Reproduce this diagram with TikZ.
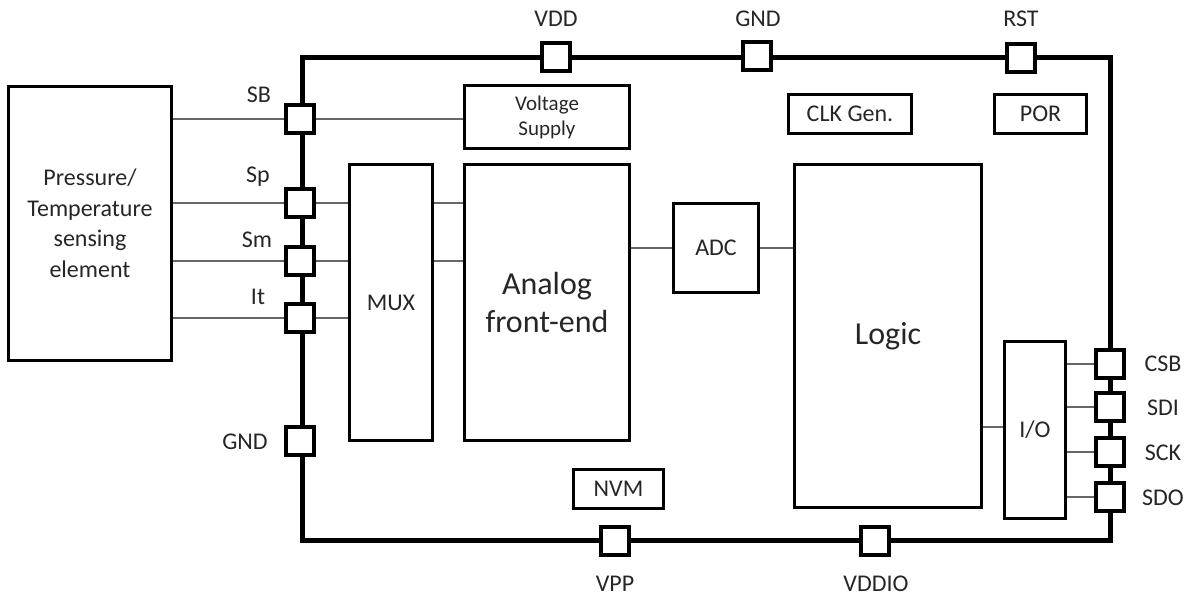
\documentclass[tikz,border=0pt]{standalone}
\usepackage{fontspec}
\setmainfont{Carlito}
\begin{document}
\begin{tikzpicture}[x=1pt,y=-1pt,
  box/.style={draw=black, line width=3pt, inner sep=0pt, text=black!85, font=\fontsize{24}{30.5}\selectfont, align=center},
  pad/.style={draw=black, fill=white, line width=4pt, minimum size=28pt, inner sep=0pt},
  pin/.style={text=black!85, font=\fontsize{24}{29}\selectfont, inner sep=0pt},
  wire/.style={draw=black!60, line width=1.8pt},
  bus/.style={draw=black, line width=5pt, line join=miter}]
\useasboundingbox (0,0) rectangle (1192,601);
% chip bus outline
\draw[bus] (302,58) rectangle (1110,540);
% boxes
\node[box, minimum width=163pt, minimum height=274pt] (sens) at (90,223.5) {Pressure/\\Temperature\\sensing\\element};
\node[box, minimum width=165pt, minimum height=63pt, font=\fontsize{21}{25}\selectfont] (vs) at (547,117) {Voltage\\Supply};
\node[box, minimum width=123pt, minimum height=39pt] (clk) at (850,114) {CLK Gen.};
\node[box, minimum width=92pt, minimum height=39pt] (por) at (1040.5,114) {POR};
\node[box, minimum width=83pt, minimum height=276pt] (mux) at (391,302.5) {MUX};
\node[box, minimum width=165pt, minimum height=276pt, font=\fontsize{32}{38}\selectfont] (afe) at (547,302.5) {Analog\\front-end};
\node[box, minimum width=85pt, minimum height=89pt] (adc) at (716,248) {ADC};
\node[box, minimum width=187pt, minimum height=343pt, font=\fontsize{32}{38}\selectfont] (logic) at (888,336) {Logic};
\node[box, minimum width=61pt, minimum height=177pt] (io) at (1035,430) {I/O};
\node[box, minimum width=90pt, minimum height=39pt] (nvm) at (618.5,489) {NVM};
% pads
\node[pad] (sb) at (300,119) {};
\node[pad] (sp) at (300,203) {};
\node[pad] (sm) at (300,261) {};
\node[pad] (it) at (300,318) {};
\node[pad] (gndl) at (300,441) {};
\node[pad] (vdd) at (556,57) {};
\node[pad] (gndt) at (757,56) {};
\node[pad] (rst) at (1021,58) {};
\node[pad] (csb) at (1110,364) {};
\node[pad] (sdi) at (1110,407) {};
\node[pad] (sck) at (1110,452) {};
\node[pad] (sdo) at (1110,497) {};
\node[pad] (vpp) at (615,541) {};
\node[pad] (vddio) at (875,541) {};
% pin labels
\node[pin] at (259,95) {SB};
\node[pin] at (258,177) {Sp};
\node[pin] at (257,240) {Sm};
\node[pin] at (258,297) {It};
\node[pin] at (245,442) {GND};
\node[pin] at (556,19) {VDD};
\node[pin] at (758,19) {GND};
\node[pin] at (1021,19) {RST};
\node[pin] at (1163,364) {CSB};
\node[pin] at (1163,408) {SDI};
\node[pin] at (1163,453) {SCK};
\node[pin] at (1163,498) {SDO};
\node[pin] at (615,584) {VPP};
\node[pin] at (876,584) {VDDIO};
% wires
\draw[wire] (sens.east |- sb) -- (sb.west);
\draw[wire] (sb.east) -- (vs.west |- sb);
\draw[wire] (sens.east |- sp) -- (sp.west);
\draw[wire] (sp.east) -- (mux.west |- sp);
\draw[wire] (sens.east |- sm) -- (sm.west);
\draw[wire] (sm.east) -- (mux.west |- sm);
\draw[wire] (sens.east |- it) -- (it.west);
\draw[wire] (it.east) -- (mux.west |- it);
\draw[wire] (mux.east |- sp) -- (afe.west |- sp);
\draw[wire] (mux.east |- sm) -- (afe.west |- sm);
\draw[wire] (afe.east |- adc) -- (adc.west);
\draw[wire] (adc.east) -- (logic.west |- adc);
\draw[wire] (logic.east |- 0,427) -- (io.west |- 0,427);
\draw[wire] (io.east |- csb) -- (csb.west);
\draw[wire] (io.east |- sdi) -- (sdi.west);
\draw[wire] (io.east |- sck) -- (sck.west);
\draw[wire] (io.east |- sdo) -- (sdo.west);
\end{tikzpicture}
\end{document}
